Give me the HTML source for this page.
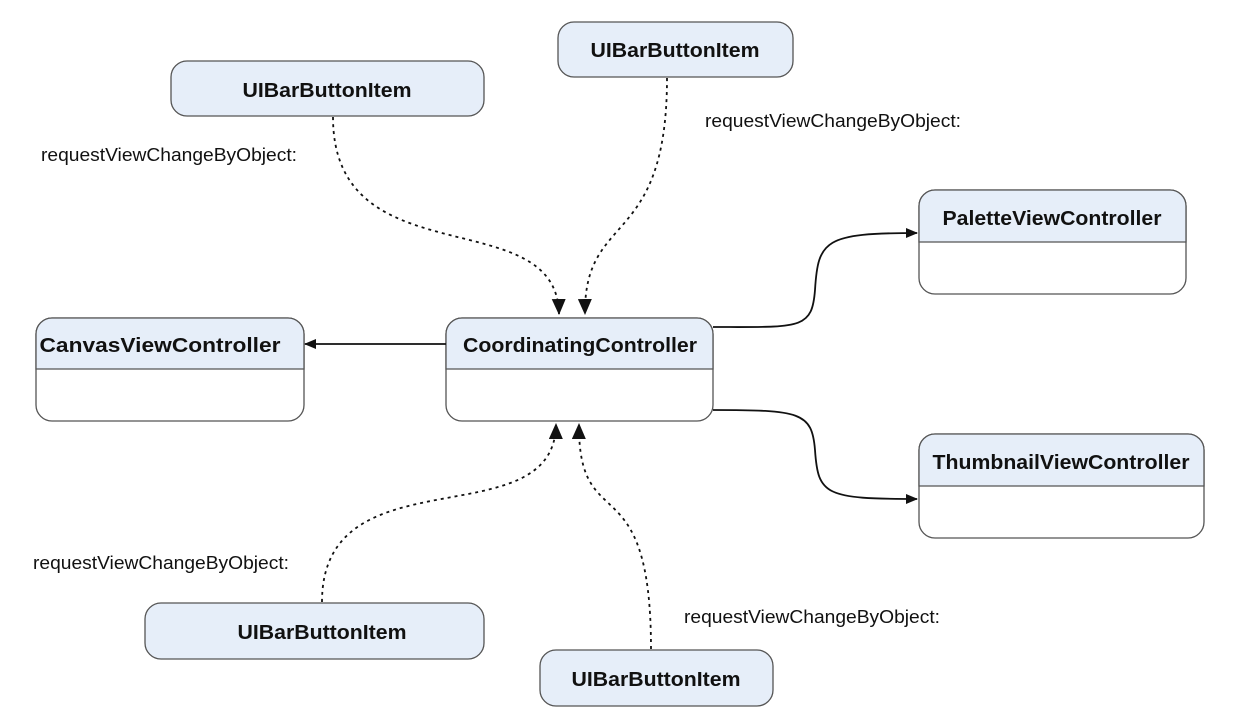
<!DOCTYPE html>
<html><head><meta charset="utf-8"><style>
html,body{margin:0;padding:0;background:#fff;}
svg{display:block}
.t{font-family:"Liberation Sans",Arial,sans-serif;font-weight:bold;font-size:20px;fill:#111;text-anchor:middle}
.l{font-family:"Liberation Sans",Arial,sans-serif;font-size:18px;fill:#111}
.b{fill:#e6eef9;stroke:#555;stroke-width:1.3}
.w{fill:#fff;stroke:#555;stroke-width:1.3}
.d{fill:none;stroke:#111;stroke-width:1.8;stroke-dasharray:3,4}
.s{fill:none;stroke:#111;stroke-width:1.8}
</style></head><body>
<svg width="1234" height="720" viewBox="0 0 1234 720" xmlns="http://www.w3.org/2000/svg">
<defs>
<marker id="a" markerWidth="12" markerHeight="10" refX="11" refY="5" orient="auto" markerUnits="userSpaceOnUse">
<path d="M0,0 L12,5 L0,10 z" fill="#111"/></marker>
<marker id="a2" markerWidth="16" markerHeight="14" refX="15" refY="7" orient="auto" markerUnits="userSpaceOnUse">
<path d="M0,0 L16,7 L0,14 z" fill="#111"/></marker>
</defs>

<rect class="b" x="171" y="61" width="313" height="55" rx="16"/>
<text class="t" x="327" y="97" textLength="169" lengthAdjust="spacingAndGlyphs">UIBarButtonItem</text>
<rect class="b" x="558" y="22" width="235" height="55" rx="16"/>
<text class="t" x="675" y="57" textLength="169" lengthAdjust="spacingAndGlyphs">UIBarButtonItem</text>
<rect class="b" x="145" y="603" width="339" height="56" rx="16"/>
<text class="t" x="322" y="639" textLength="169" lengthAdjust="spacingAndGlyphs">UIBarButtonItem</text>
<rect class="b" x="540" y="650" width="233" height="56" rx="16"/>
<text class="t" x="656" y="686" textLength="169" lengthAdjust="spacingAndGlyphs">UIBarButtonItem</text>

<g>
<rect class="w" x="36" y="318" width="268" height="103" rx="16"/>
<path class="b" d="M36,369 V334 a16,16 0 0 1 16,-16 H288 a16,16 0 0 1 16,16 V369 Z"/>
<text class="t" x="160" y="352" textLength="241" lengthAdjust="spacingAndGlyphs">CanvasViewController</text>
</g>
<g>
<rect class="w" x="446" y="318" width="267" height="103" rx="16"/>
<path class="b" d="M446,369 V334 a16,16 0 0 1 16,-16 H697 a16,16 0 0 1 16,16 V369 Z"/>
<text class="t" x="580" y="352" textLength="234" lengthAdjust="spacingAndGlyphs">CoordinatingController</text>
</g>
<g>
<rect class="w" x="919" y="190" width="267" height="104" rx="16"/>
<path class="b" d="M919,242 V206 a16,16 0 0 1 16,-16 H1170 a16,16 0 0 1 16,16 V242 Z"/>
<text class="t" x="1052" y="225" textLength="219" lengthAdjust="spacingAndGlyphs">PaletteViewController</text>
</g>
<g>
<rect class="w" x="919" y="434" width="285" height="104" rx="16"/>
<path class="b" d="M919,486 V450 a16,16 0 0 1 16,-16 H1188 a16,16 0 0 1 16,16 V486 Z"/>
<text class="t" x="1061" y="469" textLength="257" lengthAdjust="spacingAndGlyphs">ThumbnailViewController</text>
</g>

<path class="s" d="M446,344 H305" marker-end="url(#a)"/>
<path class="s" d="M713,327 C800,327 812,330 815,290 C818,240 825,233 917,233" marker-end="url(#a)"/>
<path class="s" d="M713,410 C800,410 812,412 815,450 C818,495 825,499 917,499" marker-end="url(#a)"/>

<path class="d" d="M333,117 C333,280 557,200 559,314" marker-end="url(#a2)"/>
<path class="d" d="M667,78 C667,250 584,210 585,314" marker-end="url(#a2)"/>
<path class="d" d="M322,602 C322,450 555,540 556,424" marker-end="url(#a2)"/>
<path class="d" d="M651,649 C651,460 578,540 579,424" marker-end="url(#a2)"/>

<text class="l" x="41" y="161" textLength="256" lengthAdjust="spacingAndGlyphs">requestViewChangeByObject:</text>
<text class="l" x="705" y="127" textLength="256" lengthAdjust="spacingAndGlyphs">requestViewChangeByObject:</text>
<text class="l" x="33" y="569" textLength="256" lengthAdjust="spacingAndGlyphs">requestViewChangeByObject:</text>
<text class="l" x="684" y="623" textLength="256" lengthAdjust="spacingAndGlyphs">requestViewChangeByObject:</text>
</svg>
</body></html>
